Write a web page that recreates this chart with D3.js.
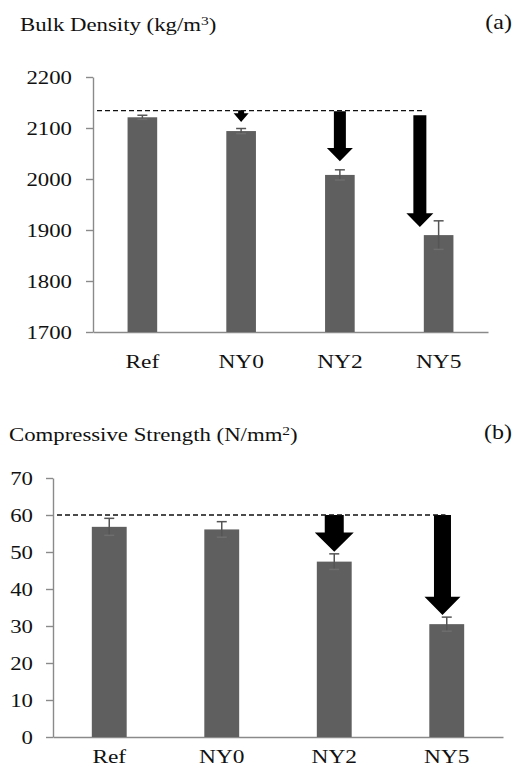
<!DOCTYPE html>
<html>
<head>
<meta charset="utf-8">
<script src="https://cdn.jsdelivr.net/npm/d3@7"></script>
<style>
  body { margin: 0; background: #fff; }
  svg { display: block; }
  text { font-family: "Liberation Serif", "Times New Roman", serif; fill: #111; }
</style>
</head>
<body>
<svg id="chart_svg" width="514" height="776"></svg>
<script>
// data
var categories = ["Ref", "NY0", "NY2", "NY5"];

var densityValues = [2121, 2094, 2008, 1890];
var densityErrors = [4, 5, 10, 28];
var densityTicks = [1700, 1800, 1900, 2000, 2100, 2200];
var densityRefLine = 2134;
// arrows: category, start value, where the head begins, tip value
var densityArrows = [
  { cat: "NY0", from: 2135, neck: 2129, tip: 2112 },
  { cat: "NY2", from: 2133, neck: 2061, tip: 2035 },
  { cat: "NY5", from: 2125, neck: 1933, tip: 1906 }
];

var strengthValues = [56.8, 56.1, 47.4, 30.5];
var strengthErrors = [2.3, 2.1, 2.1, 1.9];
var strengthTicks = [0, 10, 20, 30, 40, 50, 60, 70];
var strengthRefLine = 60;
var strengthArrows = [
  { cat: "NY2", from: 60, neck: 55.3, tip: 50.1 },
  { cat: "NY5", from: 60, neck: 37.9, tip: 33 }
];

var STRETCH = 1.2;   // the original picture is stretched sideways
var FONT = 19;
var AXIS_COLOR = "#8a8a8a";
var BAR_COLOR = "#5f5f5f";

window.addEventListener("load", draw);

function stretchedText(svg, x, y, str, anchor, size) {
  return svg.append("text")
    .attr("transform", "translate(" + x + "," + y + ") scale(" + STRETCH + ",1)")
    .attr("text-anchor", anchor || "start")
    .attr("font-size", size || FONT)
    .text(str);
}

function drawPanel(svg, cfg) {
  var x = d3.scaleBand().domain(categories).range([cfg.left, cfg.right])
    .paddingInner(cfg.pad).paddingOuter(cfg.pad / 2);
  var y = d3.scaleLinear().domain(cfg.domain).range([cfg.bottom, cfg.top]);
  var step = x.step();
  var bw = x.bandwidth();

  // y axis
  var yAxis = svg.append("g")
    .attr("transform", "translate(" + cfg.left + ",0)")
    .call(d3.axisLeft(y).tickValues(cfg.ticks).tickFormat(d3.format("d"))
      .tickSize(7).tickSizeOuter(0).tickPadding(cfg.tickPad));
  yAxis.select(".domain").attr("stroke", AXIS_COLOR).attr("stroke-width", 1.4);
  yAxis.selectAll(".tick line").attr("stroke", AXIS_COLOR).attr("stroke-width", 1.4);
  yAxis.selectAll(".tick text")
    .attr("font-size", FONT).attr("font-family", "Liberation Serif").attr("fill", "#111")
    .attr("transform", "scale(" + STRETCH + ",1)");

  // x axis
  var xAxis = svg.append("g")
    .attr("transform", "translate(0," + cfg.bottom + ")")
    .call(d3.axisBottom(x).tickSize(0).tickPadding(cfg.catPad));
  xAxis.select(".domain").attr("stroke", AXIS_COLOR).attr("stroke-width", 1.4);
  xAxis.selectAll(".tick text")
    .attr("font-size", FONT + 0.5).attr("font-family", "Liberation Serif").attr("fill", "#111")
    .attr("transform", "scale(" + STRETCH + ",1)");

  var rows = categories.map(function (c, i) {
    return { cat: c, value: cfg.values[i], err: cfg.errors[i] };
  });

  // bars
  svg.selectAll(null).data(rows).enter().append("rect")
    .attr("x", function (d) { return x(d.cat); })
    .attr("y", function (d) { return y(d.value); })
    .attr("width", bw)
    .attr("height", function (d) { return cfg.bottom - y(d.value); })
    .attr("fill", BAR_COLOR);

  // error bars
  var eb = svg.selectAll(null).data(rows).enter().append("g")
    .attr("stroke", "#555").attr("stroke-width", 1.5);
  eb.append("line")
    .attr("x1", function (d) { return x(d.cat) + bw / 2; })
    .attr("x2", function (d) { return x(d.cat) + bw / 2; })
    .attr("y1", function (d) { return y(d.value + d.err); })
    .attr("y2", function (d) { return y(d.value - d.err); });
  eb.append("line")
    .attr("x1", function (d) { return x(d.cat) + bw / 2 - 5; })
    .attr("x2", function (d) { return x(d.cat) + bw / 2 + 5; })
    .attr("y1", function (d) { return y(d.value + d.err); })
    .attr("y2", function (d) { return y(d.value + d.err); });
  eb.append("line")
    .attr("stroke", "#6e6e6e")
    .attr("x1", function (d) { return x(d.cat) + bw / 2 - 5; })
    .attr("x2", function (d) { return x(d.cat) + bw / 2 + 5; })
    .attr("y1", function (d) { return y(d.value - d.err); })
    .attr("y2", function (d) { return y(d.value - d.err); });

  // arrows
  function arrowX(d) { return x(d.cat) + bw / 2 + (cfg.arrowShift[d.cat] || 0) * step; }
  svg.selectAll(null).data(cfg.arrows).enter().append("path")
    .attr("fill", "#000")
    .attr("d", function (d) {
      var cx = arrowX(d);
      var s = cfg.arrowShaft[d.cat] / 2, h = cfg.arrowHead[d.cat] / 2;
      var p = d3.path();
      p.moveTo(cx - s, y(d.from));
      p.lineTo(cx + s, y(d.from));
      p.lineTo(cx + s, y(d.neck));
      p.lineTo(cx + h, y(d.neck));
      p.lineTo(cx, y(d.tip));
      p.lineTo(cx - h, y(d.neck));
      p.lineTo(cx - s, y(d.neck));
      p.closePath();
      return p.toString();
    });

  // dashed reference line
  var last = cfg.arrows[cfg.arrows.length - 1];
  svg.append("line")
    .attr("x1", cfg.left + 4)
    .attr("x2", arrowX(last) + cfg.dashEnd)
    .attr("y1", y(cfg.refLine))
    .attr("y2", y(cfg.refLine))
    .attr("stroke", "#111").attr("stroke-width", 1.3)
    .attr("stroke-dasharray", "5,3");

  // title with superscript
  var t = stretchedText(svg, cfg.titleX, cfg.titleY, cfg.title[0]);
  t.append("tspan").attr("font-size", "0.68em").attr("dy", "-0.5em").text(cfg.title[1]);
  t.append("tspan").attr("dy", "0.34em").text(")");
  stretchedText(svg, 512, cfg.titleY - 2, cfg.label, "end", 20);
}

function draw() {
  var svg = d3.select("#chart_svg");

  drawPanel(svg, {
    left: 93, right: 488, top: 77, bottom: 332,
    domain: [1700, 2200], ticks: densityTicks, tickPad: 10.5, catPad: 22.5, pad: 0.7,
    values: densityValues, errors: densityErrors, refLine: densityRefLine,
    arrows: densityArrows,
    arrowShift: { NY5: -0.19 },
    arrowShaft: { NY0: 6, NY2: 12, NY5: 13 },
    arrowHead: { NY0: 15, NY2: 26, NY5: 27 },
    dashEnd: 5,
    title: ["Bulk Density (kg/m", "3"], titleX: 20, titleY: 31, label: "(a)"
  });

  drawPanel(svg, {
    left: 53, right: 503, top: 478, bottom: 737,
    domain: [0, 70], ticks: strengthTicks, tickPad: 9.7, catPad: 12.5, pad: 0.69,
    values: strengthValues, errors: strengthErrors, refLine: strengthRefLine,
    arrows: strengthArrows,
    arrowShift: { NY2: 0, NY5: -0.038 },
    arrowShaft: { NY2: 19, NY5: 17 },
    arrowHead: { NY2: 39, NY5: 36 },
    dashEnd: 3,
    title: ["Compressive Strength (N/mm", "2"], titleX: 9, titleY: 441, label: "(b)"
  });
}
</script>
</body>
</html>
